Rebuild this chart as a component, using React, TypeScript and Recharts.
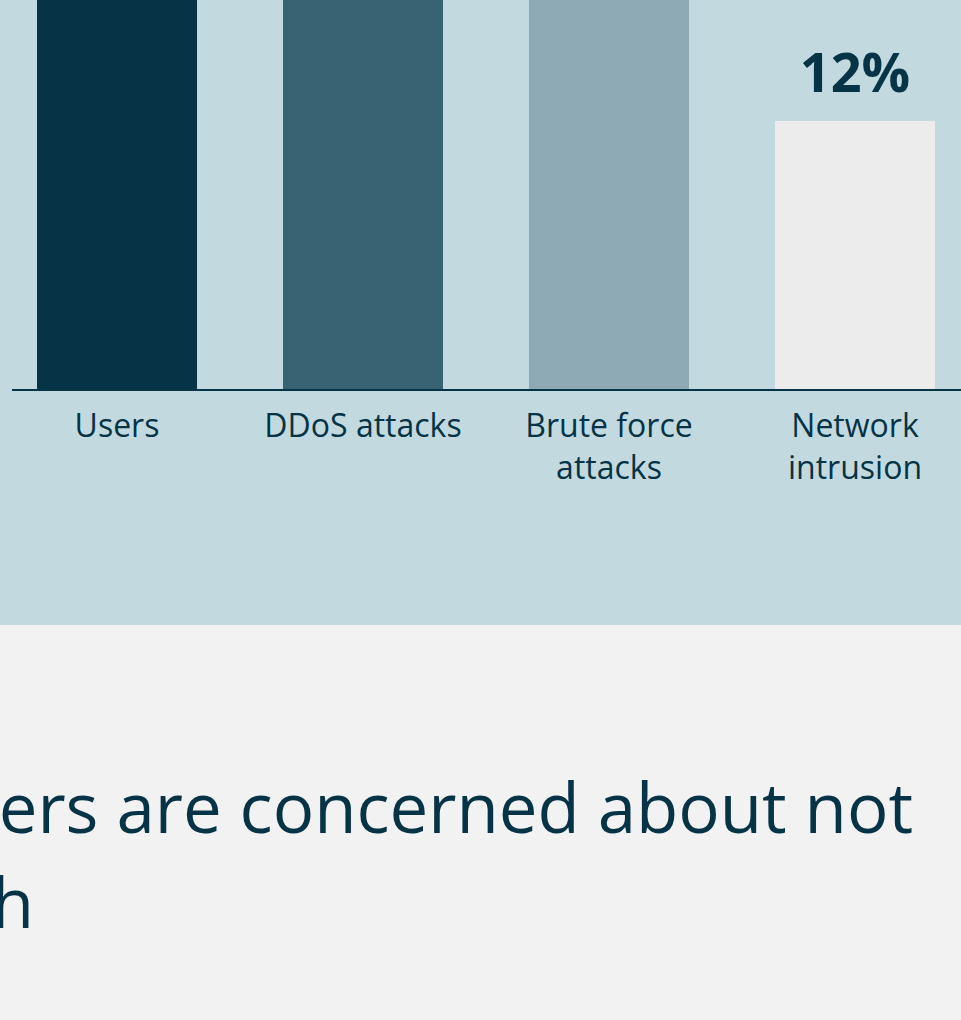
import { Bar, BarChart, Cell, LabelList, XAxis, YAxis } from "recharts";

const categories = ["Users", "DDoS attacks", "Brute force attacks", "Network intrusion"];
const tickLines = [["Users"], ["DDoS attacks"], ["Brute force", "attacks"], ["Network", "intrusion"]];
// only the 12% label is in frame; the other bars run past the top edge
const shares = [36, 29, 24, 12];
const barColors = ["#063346", "#376272", "#8eaab4", "#ececec"];

const navy = "#063346";
const font = "'Open Sans', sans-serif";

// the chart sits this far above the visible area
const chartTop = -607;

const data = categories.map((category, i) => ({ category, share: shares[i] }));

function CategoryTick({ x, y, index }: any) {
  const lines = tickLines[index] ?? [];
  return (
    <text x={x} y={y} textAnchor="middle" fill={navy} fontSize={32} fontFamily={font}>
      {lines.map((line, i) => (
        <tspan key={line} x={x} dy={i === 0 ? 47 : 42}>
          {line}
        </tspan>
      ))}
    </text>
  );
}

function ShareLabel({ x, y, width, value }: any) {
  const baseline = y - 29;
  // labels that would land above the frame are not drawn
  if (baseline - 45 + chartTop < 0) return null;
  return (
    <text
      x={x + width / 2}
      y={baseline}
      textAnchor="middle"
      fill={navy}
      fontSize={54}
      fontWeight={700}
      fontFamily={font}
    >
      {`${value}%`}
    </text>
  );
}

export default function App() {
  return (
    <div
      style={{
        position: "absolute",
        left: 0,
        top: 0,
        width: 961,
        height: 1020,
        overflow: "hidden",
        background: "#f2f2f2",
        fontFamily: font,
      }}
    >
      <div
        style={{
          position: "absolute",
          left: 0,
          top: 0,
          width: 961,
          height: 625,
          background: "#c2dadf",
          overflow: "hidden",
        }}
      >
        <div style={{ position: "absolute", left: 12, top: chartTop }}>
          <BarChart
            width={966}
            height={1117}
            data={data}
            margin={{ top: 100, right: 0, bottom: 90, left: 0 }}
          >
            <XAxis
              dataKey="category"
              axisLine={{ stroke: navy, strokeWidth: 2 }}
              tickLine={false}
              tickSize={0}
              tickMargin={0}
              interval={0}
              padding={{ left: -18, right: 0 }}
              tick={<CategoryTick />}
            />
            <YAxis hide domain={[0, 40]} allowDataOverflow />
            <Bar dataKey="share" barSize={160} isAnimationActive={false}>
              {data.map((d, i) => (
                <Cell key={d.category} fill={barColors[i]} />
              ))}
              <LabelList dataKey="share" content={<ShareLabel />} />
            </Bar>
          </BarChart>
        </div>
      </div>
      <svg
        width={961}
        height={395}
        style={{ position: "absolute", left: 0, top: 625 }}
      >
        <text x={913} y={208} textAnchor="end" fill={navy} fontSize={69} fontFamily={font}>
          ers are concerned about not
        </text>
        <text x={34} y={303} textAnchor="end" fill={navy} fontSize={69} fontFamily={font}>
          h
        </text>
      </svg>
    </div>
  );
}
